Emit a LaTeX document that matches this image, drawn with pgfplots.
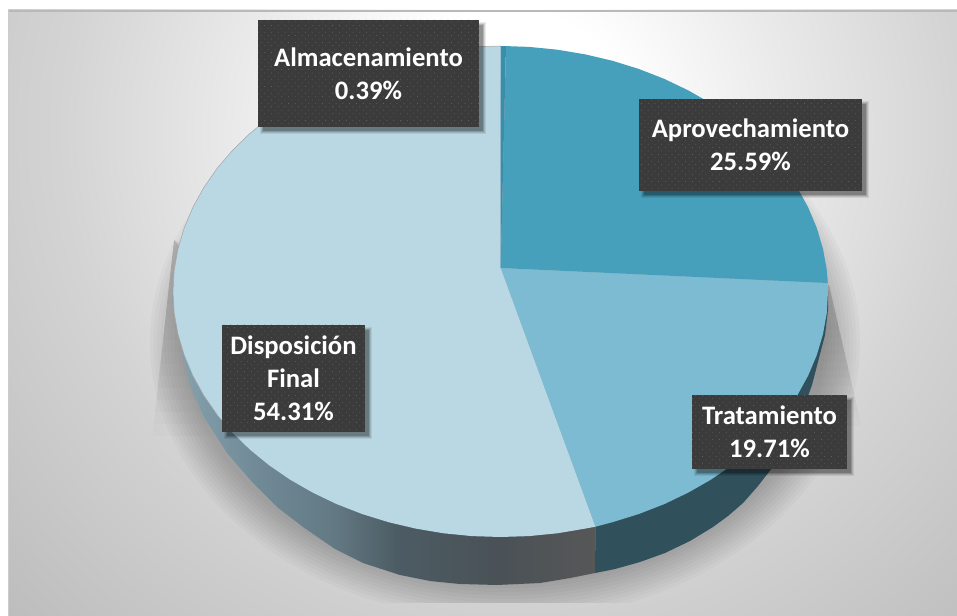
\documentclass[border=0pt]{standalone}
\usepackage{fontspec}
\setmainfont{Carlito}
\usepackage{pgfplots}
\usepackage{pgfplotstable}
\pgfplotsset{compat=1.18}
\usetikzlibrary{patterns.meta}

% colours
\definecolor{cDisp}{HTML}{BAD8E4}
\definecolor{cTrat}{HTML}{7DBBD2}
\definecolor{cApro}{HTML}{46A0BC}
\definecolor{cAlma}{HTML}{3A8DAB}
\definecolor{cWallR}{HTML}{30505C}
\definecolor{cBox}{HTML}{3B3B3B}
\definecolor{cDot}{HTML}{626262}

\pgfdeclareradialshading{bggrad}{\pgfpoint{0bp}{0bp}}{
  rgb(0bp)=(1,1,1); rgb(4.3bp)=(1,1,1); rgb(9.6bp)=(.92,.92,.92);
  rgb(16bp)=(.83,.83,.83); rgb(25bp)=(.74,.74,.74); rgb(50bp)=(.74,.74,.74)}
\pgfdeclarehorizontalshading{wall}{100bp}{
  rgb(0bp)=(.52,.63,.68); rgb(25bp)=(.52,.63,.68); rgb(34bp)=(.44,.54,.59);
  rgb(43bp)=(.39,.48,.52); rgb(51bp)=(.30,.36,.39); rgb(63bp)=(.29,.32,.34);
  rgb(75bp)=(.34,.34,.34); rgb(100bp)=(.34,.34,.34)}

% slices of the top face, pixel positions of the picture
\pgfplotstableread{
x y
500.7 268
500.5 46
506 46.1
}\alma
\pgfplotstableread{
x y
500.7 268
506 46.1
529.0 46.9
557.4 49.7
585.3 54.4
612.5 60.8
638.9 69.0
664.3 78.9
688.3 90.4
711.0 103.4
732.1 117.9
751.4 133.7
768.8 150.7
784.1 168.7
797.3 187.7
808.2 207.5
816.8 228.0
823.0 248.9
826.8 270.1
827.8 283
}\apro
\pgfplotstableread{
x y
500.7 268
827.8 283
828.0 291.5
826.8 312.9
823.0 334.1
816.8 355.0
808.2 375.5
797.3 395.3
784.1 414.3
768.8 432.3
751.4 449.3
732.1 465.1
711.0 479.6
688.3 492.6
664.3 504.1
638.9 514.0
612.5 522.2
595.5 526.7
}\trat
\pgfplotstableread{
x y
500.7 268
595.5 526.7
585.3 528.6
557.4 533.3
529.0 536.1
500.5 537.0
472.0 536.1
443.6 533.3
415.7 528.6
388.5 522.2
362.1 514.0
336.7 504.1
312.7 492.6
290.0 479.6
268.9 465.1
249.6 449.3
232.2 432.3
216.9 414.3
203.7 395.3
192.8 375.5
184.2 355.0
178.0 334.1
174.2 312.9
173.0 291.5
174.2 270.1
178.0 248.9
184.2 228.0
192.8 207.5
203.7 187.7
216.9 168.7
232.2 150.7
249.6 133.7
268.9 117.9
290.0 103.4
312.7 90.4
336.7 78.9
362.1 69.0
388.5 60.8
415.7 54.4
443.6 49.7
472.0 46.9
500.5 46.0
}\disp
% side wall, lower edge
\pgfplotstableread{
x y
595.5 526.7
595 573
570 578
540 583
497 585
460 584
430 581
400 575
363 563
335 549
303 527
277 507
253 483
227 453
204 417
190 385
182 352
}\wallL
\pgfplotstableread{
x y
595.5 526.7
595 573
615 569
640 562
665 553
690 541
713 527
728 516
743 503
758 486
772 468
787 443
800 418
812 385
819 358
825 335
828 310
828 291
}\wallR

\newcommand{\lab}[5]{%
  \fill[black,opacity=.08] (axis cs:#1+2,#2+2) rectangle (axis cs:#3+7,#4+7);
  \fill[black,opacity=.10] (axis cs:#1+3,#2+3) rectangle (axis cs:#3+6,#4+6);
  \fill[black,opacity=.14] (axis cs:#1+4,#2+4) rectangle (axis cs:#3+5,#4+5);
  \fill[black,opacity=.20] (axis cs:#1+5,#2+5) rectangle (axis cs:#3+4,#4+4);
  \fill[cBox] (axis cs:#1,#2) rectangle (axis cs:#3,#4);
  \fill[pattern={Dots[distance=3.6pt,radius=.4pt,angle=45]},pattern color=cDot]
    (axis cs:#1,#2) rectangle (axis cs:#3,#4);
  \node[text=white,align=center,inner sep=0pt,
        font=\fontsize{20}{24.6}\selectfont\bfseries]
    at (axis cs:{(#1+#3)/2},{(#2+#4)/2}) {#5};
}

\begin{document}
\begin{tikzpicture}
\path[use as bounding box] (0,0) rectangle (717.75pt,462pt);
\begin{scope}[x=.75pt,y=-.75pt,yshift=462pt]
  % paper and frame
  \begin{scope}
    \clip (8,10) rectangle (957,616);
    \shade[shading=bggrad] (510,130) circle (525pt);
    % shadow on the paper
    \begin{scope}
      \clip (8,10) rectangle (957,603);
      \foreach \i in {0,...,10}
        \fill[black,opacity=.022] (505,342) ellipse ({(320+3.5*\i)*.75pt} and {(243+3.5*\i)*.75pt});
      \foreach \ye in {280,292,...,436}
        \fill[black,opacity=.012] (174,240) -- ({174-(\ye-240)*.11},\ye) -- (300,\ye) -- cycle;
      \foreach \ye in {330,338,...,426}
        \fill[black,opacity=.012] (829,285) -- ({829+(\ye-285)*.23},\ye) -- (700,\ye) -- cycle;
    \end{scope}
  \end{scope}
  \fill[gray!55] (8,10) rectangle (957,11.6);
  \fill[gray!40] (8,10) rectangle (8.8,616);
\end{scope}
\begin{axis}[
  at={(0,0)}, anchor=south west,
  scale only axis, width=717.75pt, height=462pt,
  xmin=0, xmax=957, ymin=0, ymax=616, y dir=reverse,
  hide axis, clip=false,
]
\addplot[shade,shading=wall,draw=none] table {\wallL} -- cycle;
\addplot[fill=cWallR,draw=none] table {\wallR} -- cycle;
\addplot[fill=cDisp,draw=none] table {\disp} -- cycle;
\addplot[draw=black!35,line width=.4pt,skip coords between index={0}{17}] table {\disp};
\addplot[fill=cTrat,draw=none] table {\trat} -- cycle;
\addplot[fill=cApro,draw=none] table {\apro} -- cycle;
\addplot[fill=cAlma,draw=none] table {\alma} -- cycle;
\lab{258}{20}{479}{127}{Almacenamiento\\0.39\%}
\lab{639}{99}{862}{191}{Aprovechamiento\\25.59\%}
\lab{222}{325}{365}{432}{Disposición\\Final\\54.31\%}
\lab{692}{395}{847}{469}{Tratamiento\\19.71\%}
\end{axis}
\end{tikzpicture}
\end{document}
